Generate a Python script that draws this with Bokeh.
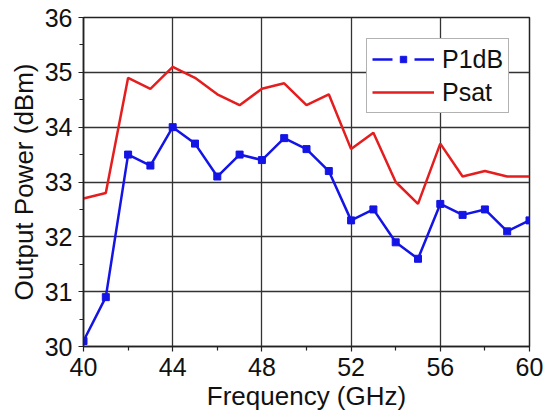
from bokeh.plotting import figure
from bokeh.models import Range1d, FixedTicker, Legend, LegendItem
from bokeh.embed import file_html
from bokeh.resources import INLINE

freq = [40, 41, 42, 43, 44, 45, 46, 47, 48, 49, 50, 51, 52, 53, 54, 55, 56, 57, 58, 59, 60]
p1db = [30.1, 30.9, 33.5, 33.3, 34.0, 33.7, 33.1, 33.5, 33.4, 33.8, 33.6, 33.2,
        32.3, 32.5, 31.9, 31.6, 32.6, 32.4, 32.5, 32.1, 32.3]
psat = [32.7, 32.8, 34.9, 34.7, 35.1, 34.9, 34.6, 34.4, 34.7, 34.8, 34.4, 34.6,
        33.6, 33.9, 33.0, 32.6, 33.7, 33.1, 33.2, 33.1, 33.1]
x_ticks = [40, 44, 48, 52, 56, 60]
y_ticks = [30, 31, 32, 33, 34, 35, 36]

FONT = "Liberation Sans"
BLUE = "#1414e6"
RED = "#e41e1e"

p = figure(width=549, height=414, output_backend="svg", toolbar_location=None,
           x_range=Range1d(40, 60), y_range=Range1d(30, 36),
           min_border_left=83, min_border_right=20, min_border_top=17, min_border_bottom=68)
p.background_fill_color = "white"
p.border_fill_color = "white"
p.outline_line_color = "#222222"
p.outline_line_width = 1.5

for ax in (p.xaxis[0], p.yaxis[0]):
    ax.axis_line_color = "#222222"
    ax.axis_line_width = 1.5
    ax.major_tick_line_color = "#222222"
    ax.minor_tick_line_color = "#222222"
    ax.major_tick_line_width = 1.2
    ax.minor_tick_line_width = 1.2
    ax.major_tick_in = 0
    ax.major_tick_out = 5
    ax.minor_tick_in = 0
    ax.minor_tick_out = 4
    ax.major_label_text_font = FONT
    ax.major_label_text_font_size = "25px"
    ax.major_label_text_color = "#111111"
    ax.axis_label_text_font = FONT
    ax.axis_label_text_font_size = "26px"
    ax.axis_label_text_font_style = "normal"
    ax.axis_label_text_color = "#111111"

p.xaxis.ticker = FixedTicker(ticks=x_ticks, minor_ticks=[42, 46, 50, 54, 58])
p.yaxis.ticker = FixedTicker(ticks=y_ticks, minor_ticks=[30.5, 31.5, 32.5, 33.5, 34.5, 35.5])
p.xaxis.axis_label = "Frequency (GHz)"
p.yaxis.axis_label = "Output Power (dBm)"
p.xaxis.major_label_standoff = 6
p.yaxis.major_label_standoff = 6
p.xaxis.axis_label_standoff = 2
p.yaxis.axis_label_standoff = 3

for g in (p.xgrid[0], p.ygrid[0]):
    g.grid_line_color = "#333333"
    g.grid_line_width = 1.3
    g.grid_line_alpha = 1.0

psat_r = p.line(freq, psat, line_color=RED, line_width=2.5)
p.line(freq, p1db, line_color=BLUE, line_width=2.5)
sq = p.scatter(freq, p1db, marker="square", size=7, fill_color=BLUE, line_color=BLUE)

# legend-only glyph (dashed), kept outside the visible range
dash = p.line([0, 1], [0, 0], line_color=BLUE, line_width=2.5, line_dash="20 22")

legend = Legend(items=[LegendItem(label="P1dB", renderers=[dash, sq]),
                       LegendItem(label="Psat", renderers=[psat_r])],
                location=(283, 233))
legend.label_text_font = FONT
legend.label_text_font_size = "25px"
legend.label_text_color = "#111111"
legend.glyph_width = 62
legend.glyph_height = 16
legend.label_height = 30
legend.label_standoff = 8
legend.padding = 5
legend.spacing = 3
legend.margin = 0
legend.border_line_color = "#666666"
legend.border_line_width = 1.2
legend.background_fill_alpha = 1.0
p.add_layout(legend, "center")

open("out.html", "w").write(file_html(p, INLINE))
